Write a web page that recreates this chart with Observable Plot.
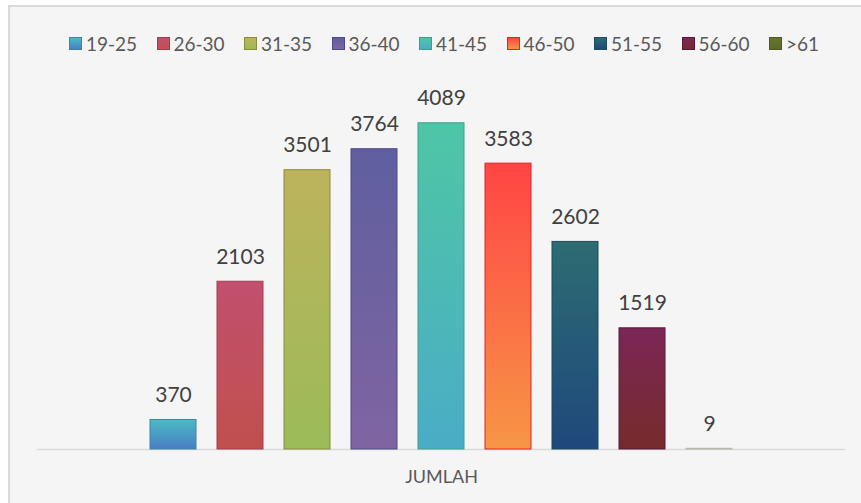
<!DOCTYPE html>
<html>
<head>
<meta charset="utf-8">
<script src="https://cdn.jsdelivr.net/npm/d3@7"></script>
<script src="https://cdn.jsdelivr.net/npm/@observablehq/plot@0.6"></script>
<style>
  html, body { margin: 0; padding: 0; background: #ffffff; }
  body { width: 861px; height: 503px; position: relative; overflow: hidden; font-family: Lato, "Open Sans", sans-serif; }
  #frame { position: absolute; left: 8px; top: 5px; width: 900px; height: 540px; background: #f5f5f5; border-left: 2px solid #d9d9d9; border-top: 2px solid #d9d9d9; }
  #legend { position: absolute; left: 69px; top: 32px; display: flex; font-size: 19px; color: #595959; }
  .item { width: 87.5px; display: flex; align-items: center; white-space: nowrap; }
  .sw { width: 13px; height: 13px; margin-right: 4px; box-sizing: border-box; border: 1px solid; flex: none; }
  #chart { position: absolute; left: 0; top: 0; }
</style>
</head>
<body>
<div id="frame"></div>
<div id="legend"></div>
<div id="chart"></div>
<script>
const categories = ["19-25", "26-30", "31-35", "36-40", "41-45", "46-50", "51-55", "56-60", ">61"];
const values = [370, 2103, 3501, 3764, 4089, 3583, 2602, 1519, 9];
const groupLabel = "JUMLAH";
const yDomain = [0, 4500];
const topColors = ["#4bbac4", "#c24f6e", "#bdb35c", "#5f5f9f", "#4ec6a5", "#ff4545", "#2c6c72", "#7c2656", "#66752c"];
const bottomColors = ["#4a7ec4", "#c0504d", "#9bbb59", "#8064a2", "#4bacc6", "#f79646", "#1f487c", "#772b2b", "#5a6a2a"];
const strokeColors = ["#3b86a6", "#a23e4c", "#8c8a3c", "#4a4a86", "#3e9e8e", "#e02424", "#1f4a5c", "#571a3a", "#b8b8a8"];

const data = categories.map((c, i) => ({
  group: groupLabel,
  category: c,
  value: values[i],
  fill: `url(#grad${i})`,
  stroke: strokeColors[i]
}));

const plot = Plot.plot({
  width: 861,
  height: 503,
  marginLeft: 37,
  marginRight: 16,
  marginTop: 90,
  marginBottom: 54,
  style: { background: "transparent", fontFamily: "Lato, 'Open Sans', sans-serif" },
  fx: { domain: [groupLabel], padding: 0, label: null, axis: null },
  x: { domain: categories, paddingInner: 0.316, paddingOuter: 1.65, axis: null },
  y: { domain: yDomain, axis: null },
  color: { type: "identity" },
  marks: [
    Plot.axisFx({ anchor: "bottom", tickSize: 0, tickPadding: 21, label: null, fontSize: 18, fill: "#595959" }),
    Plot.ruleY([0], { stroke: "#d9d9d9", strokeWidth: 1.5 }),
    Plot.barY(data, { fx: "group", x: "category", y: "value", fill: "fill", stroke: "stroke", strokeWidth: 1 }),
    Plot.text(data, { fx: "group", x: "category", y: "value", text: d => String(d.value), lineAnchor: "bottom", dy: -18, fontSize: 21, fill: "#404040" })
  ]
});

const defs = d3.select(plot).insert("defs", ":first-child");
categories.forEach((c, i) => {
  const g = defs.append("linearGradient").attr("id", `grad${i}`).attr("x1", 0).attr("y1", 0).attr("x2", 0).attr("y2", 1);
  g.append("stop").attr("offset", "0%").attr("stop-color", topColors[i]);
  g.append("stop").attr("offset", "100%").attr("stop-color", bottomColors[i]);
});

document.getElementById("chart").appendChild(plot);

const legend = d3.select("#legend");
categories.forEach((c, i) => {
  const it = legend.append("div").attr("class", "item");
  it.append("div").attr("class", "sw")
    .style("background", `linear-gradient(${topColors[i]}, ${bottomColors[i]})`)
    .style("border-color", i === 8 ? "#4f5a22" : strokeColors[i]);
  it.append("span").text(c);
});
</script>
</body>
</html>
